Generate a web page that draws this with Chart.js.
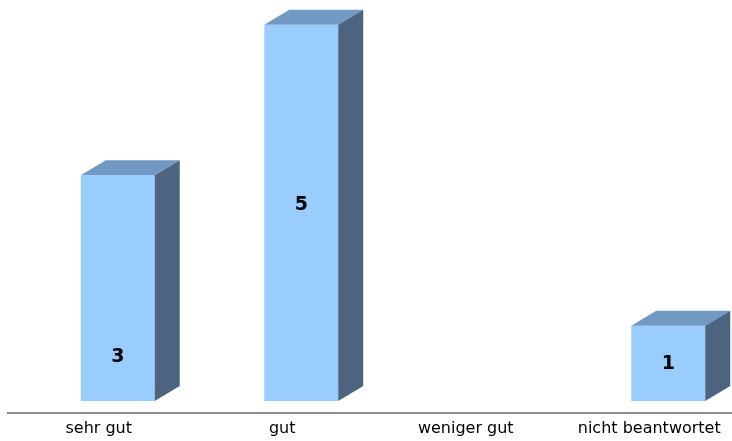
<!DOCTYPE html>
<html>
<head>
<meta charset="utf-8">
<script src="https://cdn.jsdelivr.net/npm/chart.js@4/dist/chart.umd.min.js"></script>
<style>
  html, body { margin: 0; padding: 0; background: #fff; overflow: hidden; }
  #wrap { width: 760px; height: 441px; }
</style>
</head>
<body>
<div id="wrap"><canvas id="grafico" width="760" height="441"></canvas></div>
<script>
// --- dados ---
const kategorien = ['sehr gut', 'gut', 'weniger gut', 'nicht beantwortet'];
const anzahl = [3, 5, 0, 1];
// where the value label sits inside each bar (fraction of bar height from base)
const labelHoehe = [0.195, 0.52, 0.5, 0.49];

// --- farben / 3D ---
const FRONT = '#99CCFF';
const TOP = '#7299C3';
const SIDE = '#4D6480';
const DX = 25, DY = 15;

const balken3d = {
    id: 'balken3d',
    beforeDatasetsDraw(chart) {
        const c = chart.ctx;
        const y = chart.chartArea.bottom + 12;
        c.save();
        c.strokeStyle = '#8C8C8C';
        c.lineWidth = 2;
        c.beginPath();
        c.moveTo(7, y);
        c.lineTo(chart.width, y);
        c.stroke();
        c.restore();
    },
    afterDatasetsDraw(chart) {
        const c = chart.ctx;
        const meta = chart.getDatasetMeta(0);
        c.save();
        meta.data.forEach((el, i) => {
            if (!anzahl[i]) return;
            const x0 = el.x - el.width / 2, x1 = el.x + el.width / 2;
            const yt = el.y, yb = el.base;
            // vorne
            c.fillStyle = FRONT;
            c.fillRect(x0, yt, x1 - x0, yb - yt);
            // oben
            c.fillStyle = TOP;
            c.beginPath();
            c.moveTo(x0, yt);
            c.lineTo(x0 + DX, yt - DY);
            c.lineTo(x1 + DX, yt - DY);
            c.lineTo(x1, yt);
            c.closePath();
            c.fill();
            // seite
            c.fillStyle = SIDE;
            c.beginPath();
            c.moveTo(x1, yt);
            c.lineTo(x1 + DX, yt - DY);
            c.lineTo(x1 + DX, yb - DY);
            c.lineTo(x1, yb);
            c.closePath();
            c.fill();
            // wert
            c.fillStyle = '#000';
            c.font = 'bold 19px "DejaVu Sans"';
            c.textAlign = 'center';
            c.textBaseline = 'middle';
            c.fillText(String(anzahl[i]), el.x, yb - labelHoehe[i] * (yb - yt));
        });
        c.restore();
    }
};

new Chart(document.getElementById('grafico').getContext('2d'), {
    type: 'bar',
    data: {
        labels: kategorien,
        datasets: [{
            data: anzahl,
            backgroundColor: 'rgba(0,0,0,0)',
            borderWidth: 0,
            categoryPercentage: 1,
            barPercentage: 0.403
        }]
    },
    options: {
        responsive: false,
        animation: false,
        devicePixelRatio: 1,
        layout: { padding: { left: 26, right: 0, top: 0, bottom: 0 } },
        plugins: { legend: { display: false }, tooltip: { enabled: false } },
        scales: {
            x: {
                grid: { display: false, drawTicks: false },
                border: { display: false },
                afterFit(scale) { scale.height = 40; },
                ticks: {
                    color: '#000',
                    font: { family: 'DejaVu Sans', size: 16 },
                    padding: 18,
                    labelOffset: -19,
                    maxRotation: 0,
                    autoSkip: false
                }
            },
            y: {
                display: false,
                min: 0,
                max: 5.33
            }
        }
    },
    plugins: [balken3d]
});
</script>
</body>
</html>
